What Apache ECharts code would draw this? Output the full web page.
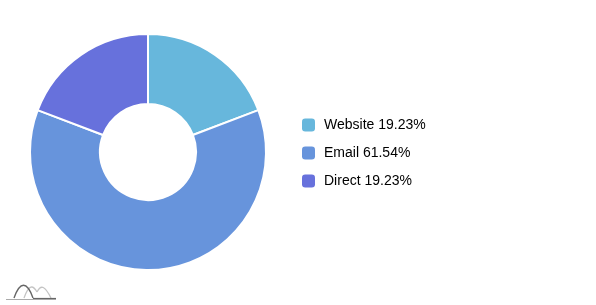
<!DOCTYPE html>
<html><head><meta charset="utf-8">
<script src="https://cdn.jsdelivr.net/npm/echarts@6/dist/echarts.min.js"></script>
<style>html,body{margin:0;padding:0;background:#fff}#c{width:596px;height:305px}</style>
</head><body><div id="c"></div>
<script>
const categories = ["Website", "Email", "Direct"];
const values = [5, 16, 5];
const colors = ["#67b7dc", "#6794dc", "#6771dc"];

const total = values.reduce((a, b) => a + b, 0);
const pct = {};
categories.forEach((c, i) => { pct[c] = (values[i] / total * 100).toFixed(2) + "%"; });

const chart = echarts.init(document.getElementById('c'), null, {renderer: 'canvas'});
chart.setOption({
  animation: false,
  color: colors,
  legend: {
    orient: 'vertical',
    left: 302,
    top: 116,
    padding: 0,
    itemWidth: 13,
    itemHeight: 13,
    itemGap: 10,
    icon: 'roundRect',
    itemStyle: {borderWidth: 0},
    textStyle: {fontFamily: 'Liberation Sans, Arial, sans-serif', fontSize: 14, lineHeight: 15, color: '#000', padding: [3, 0, 0, 4]},
    formatter: n => n + ' ' + pct[n]
  },
  series: [{
    type: 'pie',
    center: [148, 152],
    radius: [48, 118],
    startAngle: 90,
    clockwise: true,
    label: {show: false},
    labelLine: {show: false},
    emphasis: {disabled: true},
    itemStyle: {borderColor: '#fff', borderWidth: 2},
    data: categories.map((c, i) => ({name: c, value: values[i]}))
  }],
  graphic: [
    {type: 'bezierCurve', shape: {x1: 24, y1: 298, cpx1: 29, cpy1: 284, cpx2: 33, cpy2: 285, x2: 37, y2: 292}, style: {fill: null, stroke: '#c4c4c4', lineWidth: 1.3}},
    {type: 'bezierCurve', shape: {x1: 37, y1: 292, cpx1: 41, cpy1: 284, cpx2: 45, cpy2: 286, x2: 51, y2: 298}, style: {fill: null, stroke: '#c4c4c4', lineWidth: 1.3}},
    {type: 'bezierCurve', shape: {x1: 14, y1: 298, cpx1: 20, cpy1: 281, cpx2: 27, cpy2: 281, x2: 33, y2: 298}, style: {fill: null, stroke: '#666', lineWidth: 1.4}},
    {type: 'line', shape: {x1: 33, y1: 298.5, x2: 56, y2: 298.5}, style: {stroke: '#666', lineWidth: 1.2}},
    {type: 'line', shape: {x1: 6, y1: 299.5, x2: 56, y2: 299.5}, style: {stroke: '#aaa', lineWidth: 1}}
  ]
});
</script></body></html>
